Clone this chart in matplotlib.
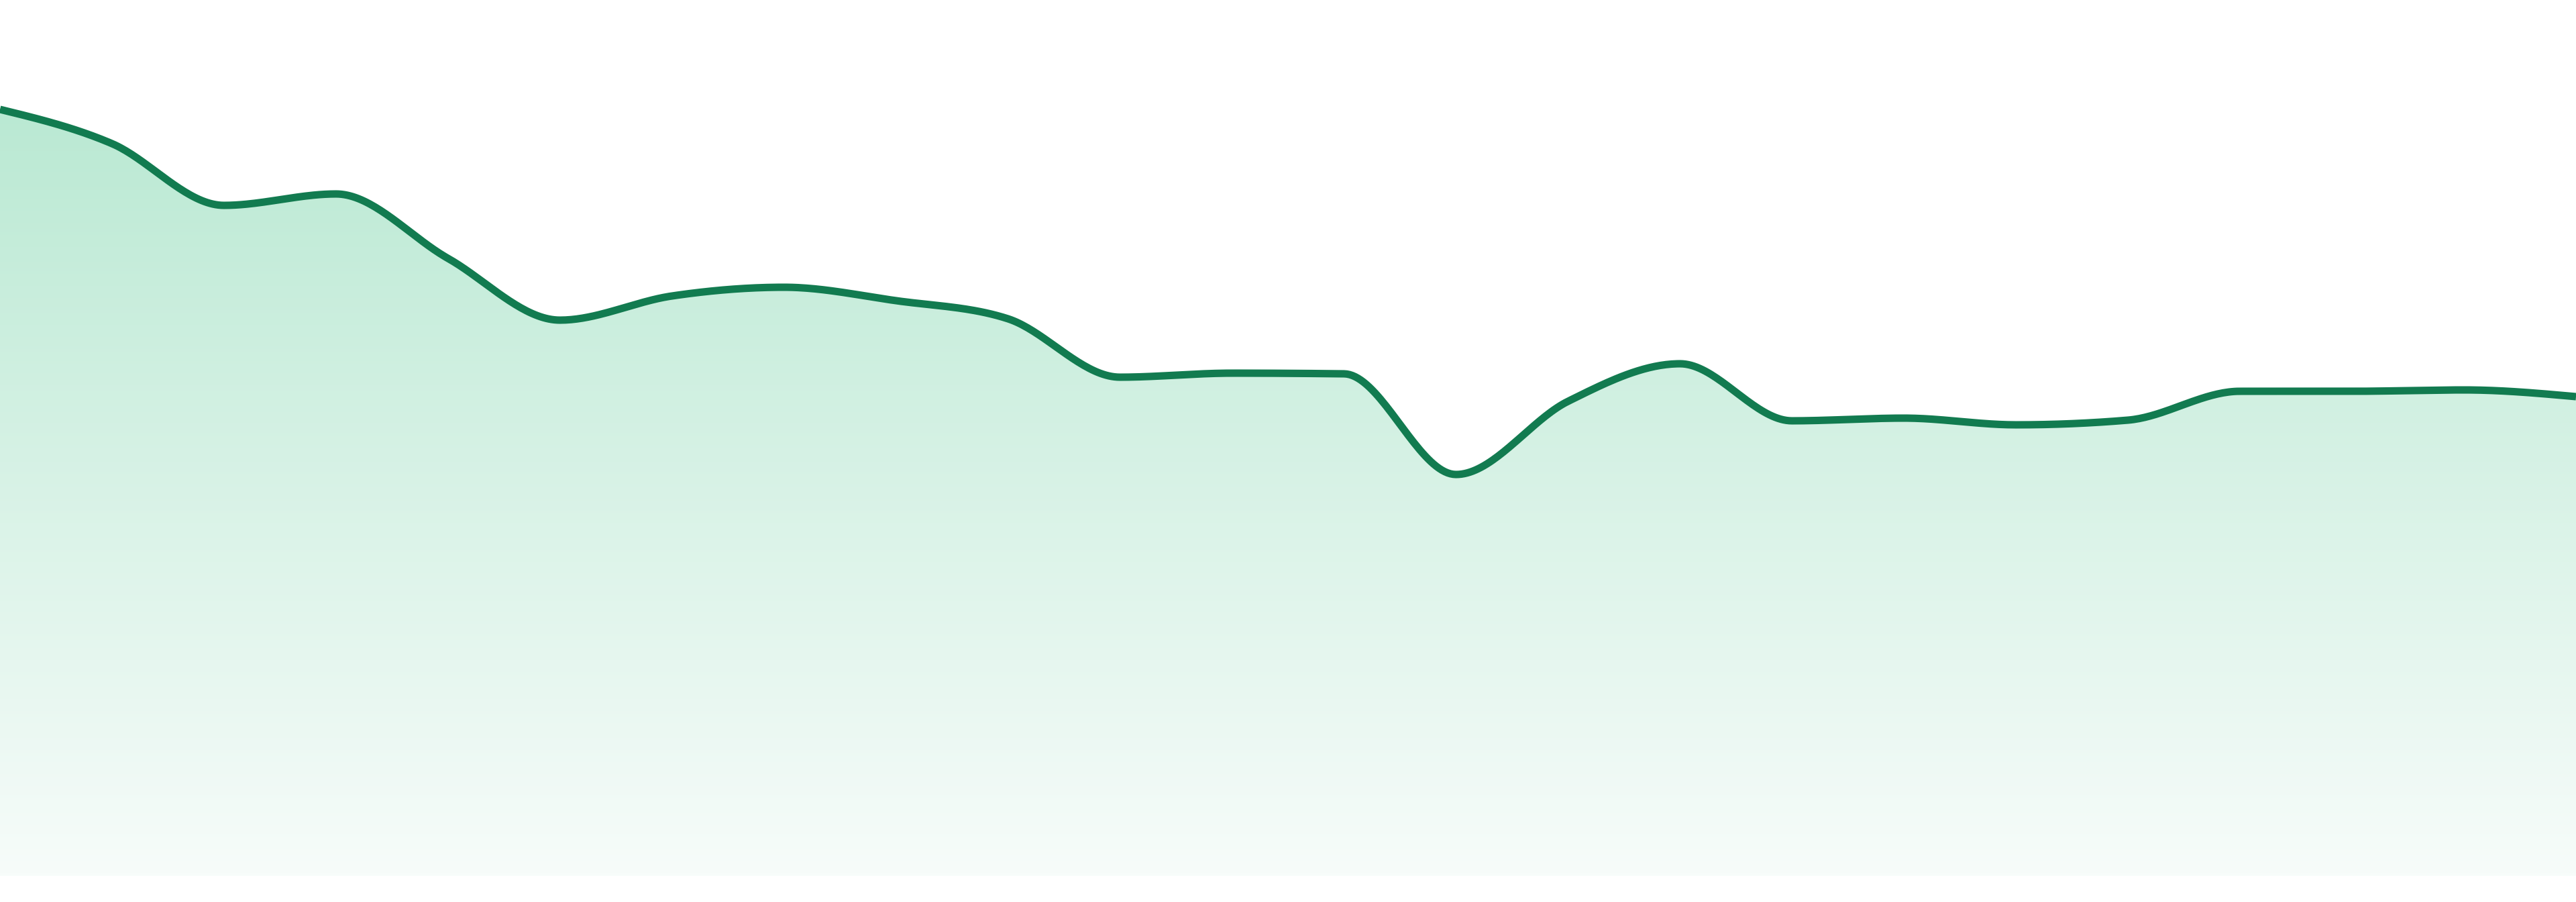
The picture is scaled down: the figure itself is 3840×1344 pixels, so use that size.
import numpy as np
import matplotlib
matplotlib.use("Agg")
import matplotlib.pyplot as plt
from matplotlib.colors import LinearSegmentedColormap

# -------------------------
# Smooth area sparkline
# -------------------------

days = np.arange(24)
values = [114.2, 109.1, 99.9, 101.6, 92.0, 82.8, 86.4, 87.7, 85.7, 83.0, 74.3, 74.9,
          74.8, 59.8, 70.7, 76.3, 67.8, 68.2, 67.2, 67.9, 72.2, 72.2, 72.4, 71.4]

LINE_COLOR = "#127b50"
FILL_TOP = "#bae9d3"
FILL_BOTTOM = "#f7fcfa"
Y_MAX = 130.5


def monotone_x(x, y, n_seg=40):
    # same idea as d3.curveMonotoneX: cubic bezier pieces, no overshoot
    x = np.asarray(x, float)
    y = np.asarray(y, float)
    h = np.diff(x)
    s = np.diff(y) / h
    t = np.zeros_like(y)
    for i in range(1, len(y) - 1):
        p = (s[i - 1] * h[i] + s[i] * h[i - 1]) / (h[i - 1] + h[i])
        t[i] = (np.sign(s[i - 1]) + np.sign(s[i])) * min(abs(s[i - 1]), abs(s[i]), 0.5 * abs(p))
    t[0] = (3 * s[0] - t[1]) / 2
    t[-1] = (3 * s[-1] - t[-2]) / 2

    xs, ys = [], []
    u = np.linspace(0, 1, n_seg, endpoint=False)
    for i in range(len(x) - 1):
        dx = h[i] / 3
        px = [x[i], x[i] + dx, x[i + 1] - dx, x[i + 1]]
        py = [y[i], y[i] + dx * t[i], y[i + 1] - dx * t[i + 1], y[i + 1]]
        b = [(1 - u) ** 3, 3 * u * (1 - u) ** 2, 3 * u ** 2 * (1 - u), u ** 3]
        xs.append(sum(bk * pk for bk, pk in zip(b, px)))
        ys.append(sum(bk * pk for bk, pk in zip(b, py)))
    xs.append([x[-1]]); ys.append([y[-1]])
    return np.concatenate(xs), np.concatenate(ys)


cx, cy = monotone_x(days, values)

fig = plt.figure(figsize=(19.2, 6.72), dpi=200)
ax = fig.add_axes([0, 39 / 1344, 1, 1305 / 1344])
ax.set_xlim(days[0], days[-1])
ax.set_ylim(0, Y_MAX)
ax.axis("off")

# gradient fill clipped to the area under the curve
poly = ax.fill_between(cx, 0, cy, color="none", lw=0)
cmap = LinearSegmentedColormap.from_list("mint", [FILL_BOTTOM, FILL_TOP])
top = max(values)
grad = np.linspace(0, 1, 256).reshape(-1, 1)
img = ax.imshow(grad, cmap=cmap, aspect="auto", origin="lower",
                extent=[days[0], days[-1], 0, top], zorder=1)
clip = poly.get_paths()[0]
img.set_clip_path(clip, transform=ax.transData)

ax.plot(cx, cy, color=LINE_COLOR, lw=4.0, solid_capstyle="butt", zorder=3)

fig.savefig("out.png", dpi=200)
